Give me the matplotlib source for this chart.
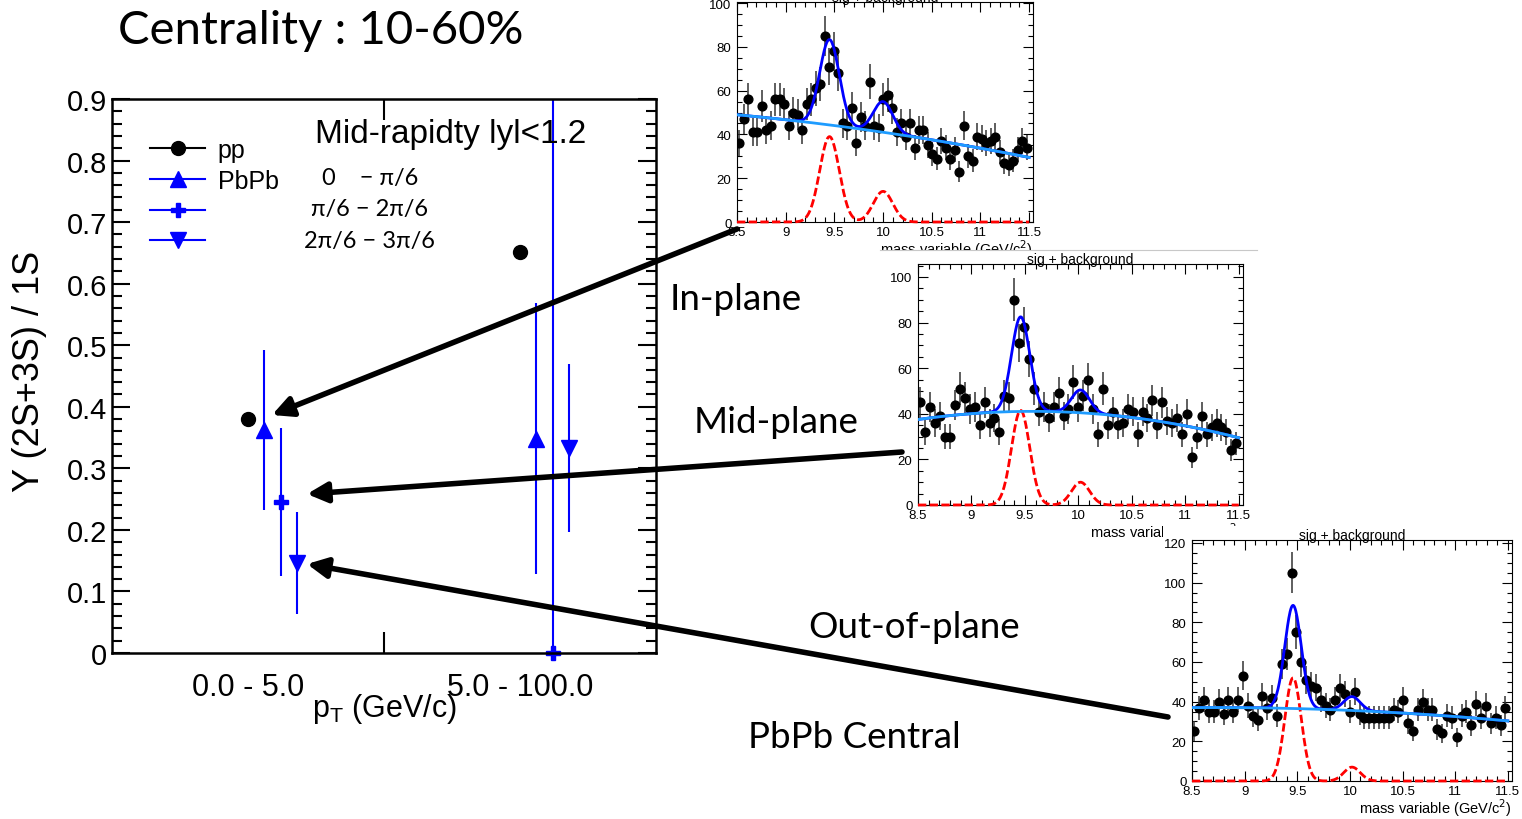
import numpy as np
import matplotlib
matplotlib.use('Agg')
import matplotlib.pyplot as plt
from matplotlib.lines import Line2D
from matplotlib.ticker import MultipleLocator, FuncFormatter

plt.rcParams['font.family'] = ['Liberation Sans', 'DejaVu Sans']
CAL = ['Lato', 'Open Sans', 'DejaVu Sans']   # Calibri-Ersatz

# ---- Hauptplot: Y(2S+3S)/1S ----
pt_bins = ['0.0 - 5.0', '5.0 - 100.0']
pp_ratio = [0.380, 0.652]
inplane_ratio = [0.362, 0.348]
inplane_err = [0.130, 0.220]
midplane_ratio = [0.245, 0.0]
midplane_err = [0.120, 1.200]
outplane_ratio = [0.146, 0.333]
outplane_err = [0.083, 0.137]
angle_labels = ['0    \u2212 \u03c0/6', '\u03c0/6 \u2212 2\u03c0/6', '2\u03c0/6 \u2212 3\u03c0/6']

# ---- Massenspektren (65 Bins, 8.5 - 11.5 GeV/c^2) ----
mass_lo, mass_hi, n_bins = 8.5, 11.5, 65
counts_in = [36, 47, 56, 41, 41, 53, 42, 44, 56, 56, 54, 44, 50, 49, 42, 54, 56, 61, 63, 85,
             71, 78, 68, 45, 44, 52, 36, 48, 44, 64, 44, 43, 56, 58, 52, 41, 45, 39, 45, 34,
             42, 42, 35, 31, 29, 37, 34, 29, 33, 23, 44, 30, 28, 39, 38, 36, 37, 39, 32, 27,
             26, 28, 33, 37, 34]
counts_mid = [45, 32, 43, 36, 39, 30, 30, 44, 51, 47, 42, 43, 35, 45, 36, 38, 32, 48, 47, 90,
              71, 78, 64, 51, 41, 43, 38, 43, 49, 39, 42, 54, 43, 48, 55, 42, 31, 51, 35, 41,
              35, 36, 42, 41, 31, 41, 38, 46, 35, 45, 37, 36, 38, 31, 40, 21, 30, 39, 31, 34,
              36, 34, 32, 24, 27]
counts_out = [25, 37, 41, 35, 35, 40, 34, 41, 35, 41, 53, 38, 33, 31, 43, 37, 42, 33, 59, 64,
              105, 75, 60, 51, 48, 47, 41, 38, 36, 41, 47, 44, 35, 45, 34, 32, 32, 32, 32, 32,
              32, 36, 35, 41, 29, 25, 36, 40, 36, 36, 26, 24, 33, 32, 22, 33, 35, 28, 39, 32,
              38, 29, 32, 28, 37]

# Fit-Parameter: Untergrund bei 8.5 / 10 / 11.5, Peaks (1S, 2S)
bkg_in, bkg_mid, bkg_out = [49, 41, 29.5], [37.5, 40.5, 29.5], [37, 35.6, 30.3]
peak_mean_in, peak_mean_mid, peak_mean_out = [9.45, 10.0], [9.46, 10.02], [9.46, 10.02]
peak_height_in, peak_height_mid, peak_height_out = [39, 14], [41.5, 10], [52, 7]
peak_sigma_in, peak_sigma_mid, peak_sigma_out = [0.10, 0.10], [0.085, 0.085], [0.078, 0.078]

W, H = 1522, 820
fig = plt.figure(figsize=(W / 100, H / 100), dpi=100)


def px_axes(l, t, r, b, z):
    a = fig.add_axes([l / W, 1 - b / H, (r - l) / W, (b - t) / H])
    a.set_zorder(z)
    return a


# ---------------- Hauptplot ----------------
ax = px_axes(112, 100, 656, 654, 1)
xc = np.arange(len(pt_bins)) + 0.5
blue = '#0000ff'
ax.errorbar(xc, pp_ratio, fmt='o', color='k', ms=10)
ax.errorbar(xc + 0.06, inplane_ratio, yerr=inplane_err, fmt='^', color=blue, ms=11,
            elinewidth=1.5, capsize=0)
mid = ax.errorbar(xc + 0.12, midplane_ratio, yerr=midplane_err, fmt='P', color=blue, ms=10,
                  elinewidth=1.5, capsize=0)
mid[0].set_clip_on(False)   # Kreuz bei 0 ganz zeigen
ax.errorbar(xc + 0.18, outplane_ratio, yerr=outplane_err, fmt='v', color=blue, ms=11,
            elinewidth=1.5, capsize=0)

ax.set_xlim(0, 2)
ax.set_ylim(0, 0.9)
for s in ax.spines.values():
    s.set_linewidth(1.8)
ax.yaxis.set_major_locator(MultipleLocator(0.1))
ax.yaxis.set_minor_locator(MultipleLocator(0.02))
ax.yaxis.set_major_formatter(FuncFormatter(lambda v, _: f'{v:g}'))
ax.tick_params(axis='y', which='both', direction='in', left=True, right=True,
               labelsize=21, width=1.5)
ax.tick_params(axis='y', which='major', length=13)
ax.tick_params(axis='y', which='minor', length=7)
ax.set_xticks(xc, pt_bins)
ax.set_xticks([1.0], minor=True)
ax.tick_params(axis='x', which='major', length=0, labelsize=22, pad=14)
ax.tick_params(axis='x', which='minor', direction='in', top=True, bottom=True,
               length=15, width=1.5)
ax.set_xlabel('p$_\\mathregular{T}$ (GeV/c)', fontsize=22, labelpad=-8)
ax.set_ylabel('\u03a5 (2S+3S) / 1S', fontsize=26)
ax.yaxis.set_label_coords(-0.12, 0.51)

handles = [Line2D([], [], color='k', marker='o', ms=10, lw=1.5),
           Line2D([], [], color=blue, marker='^', ms=11, lw=1.5),
           Line2D([], [], color=blue, marker='P', ms=10, lw=1.5),
           Line2D([], [], color=blue, marker='v', ms=11, lw=1.5)]
ax.legend(handles, ['pp', 'PbPb', '', ''], loc='upper left', bbox_to_anchor=(0.07, 0.93),
          frameon=False, fontsize=18, borderpad=0, borderaxespad=0, handlelength=2.2,
          handletextpad=0.5, labelspacing=0.27)
ax.text(0.373, 0.937, 'Mid-rapidty lyl<1.2', transform=ax.transAxes, fontsize=24,
        va='center', ha='left')
for i, lab in enumerate(angle_labels):
    ax.text(0.474, 0.859 - i * 0.057, lab, transform=ax.transAxes, fontsize=17,
            family=CAL, ha='center', va='center')


# ---------------- Massenspektren ----------------
def draw_spectrum(rect, z, counts, bkg, means, heights, sigmas, ytop):
    a = px_axes(*rect, z)
    a.set_facecolor('white')
    edges = np.linspace(mass_lo, mass_hi, n_bins + 1)
    centers = 0.5 * (edges[:-1] + edges[1:])
    c = np.array(counts, dtype=float)
    a.errorbar(centers, c, yerr=np.sqrt(c), fmt='o', color='k', ms=6.3,
               elinewidth=1.1, ecolor='#333333', capsize=0, zorder=2)
    xs = np.linspace(mass_lo, mass_hi, 500)
    b = np.polyval(np.polyfit([8.5, 10.0, 11.5], bkg, 2), xs)
    sig = np.zeros_like(xs)
    for m, h, s in zip(means, heights, sigmas):
        sig += h * np.exp(-0.5 * ((xs - m) / s) ** 2)
    a.plot(xs, b + sig, color='#0000ff', lw=2, zorder=3)
    a.plot(xs, b, color='#1e9cff', lw=2, zorder=4)
    a.plot(xs, sig, color='#ff0000', lw=2, ls=(0, (3, 1.2)), zorder=3, clip_on=False)
    a.set_xlim(8.5, 11.54)
    a.set_ylim(0, ytop)
    a.xaxis.set_major_locator(MultipleLocator(0.5))
    a.xaxis.set_minor_locator(MultipleLocator(0.1))
    a.yaxis.set_major_locator(MultipleLocator(20))
    a.yaxis.set_minor_locator(MultipleLocator(5))
    a.xaxis.set_major_formatter(FuncFormatter(lambda v, _: f'{v:g}'))
    a.tick_params(which='both', direction='in', top=True, right=True, labelsize=9.5,
                  width=0.8)
    a.tick_params(axis='x', pad=3)
    a.tick_params(axis='y', pad=4)
    a.tick_params(which='major', length=7)
    a.tick_params(which='minor', length=3.5)
    for s in a.spines.values():
        s.set_linewidth(0.8)
    hpx = rect[3] - rect[1]
    a.text(0.5, 1 + 5 / hpx, 'sig + background', transform=a.transAxes, ha='center',
           va='center', fontsize=10)
    a.text(1.0, -26 / hpx, 'mass variable (GeV/c$^2$)', transform=a.transAxes,
           ha='right', va='center', fontsize=10.5)
    return a


draw_spectrum((737, 3, 1033, 223), 2, counts_in, bkg_in, peak_mean_in,
              peak_height_in, peak_sigma_in, 100.5)

panel2 = px_axes(880, 251, 1257, 545, 3)
panel2.set_xticks([])
panel2.set_yticks([])
for k, s in panel2.spines.items():
    s.set_visible(k == 'top')
panel2.spines['top'].set_color('#c8c8c8')

draw_spectrum((918, 265, 1243, 506), 4, counts_mid, bkg_mid, peak_mean_mid,
              peak_height_mid, peak_sigma_mid, 105.7)

panel3 = px_axes(1163, 527, 1522, 820, 5)
panel3.set_xticks([])
panel3.set_yticks([])
for s in panel3.spines.values():
    s.set_visible(False)

draw_spectrum((1192, 541, 1512, 782), 6, counts_out, bkg_out, peak_mean_out,
              peak_height_out, peak_sigma_out, 121.5)

# ---------------- Beschriftung + Pfeile ----------------
ov = fig.add_axes([0, 0, 1, 1])
ov.set_zorder(10)
ov.set_xlim(0, W)
ov.set_ylim(H, 0)
ov.axis('off')
ov.patch.set_alpha(0)

ov.text(118, 31, 'Centrality : 10-60%', fontsize=34, family=CAL, va='center')
for txt, x, y in [('In-plane', 670, 300), ('Mid-plane', 694, 423),
                  ('Out-of-plane', 808, 628), ('PbPb Central', 748, 738)]:
    ov.text(x, y, txt, fontsize=26.5, family=CAL, va='center')

for tail, head in [((737, 230), (272, 416)), ((902, 453), (307, 495)),
                   ((1168, 718), (307, 565))]:
    ov.annotate('', xy=head, xytext=tail,
                arrowprops=dict(arrowstyle='-|>', lw=4, color='k', mutation_scale=30,
                                shrinkA=0, shrinkB=0))

fig.savefig('out.png', dpi=100)
